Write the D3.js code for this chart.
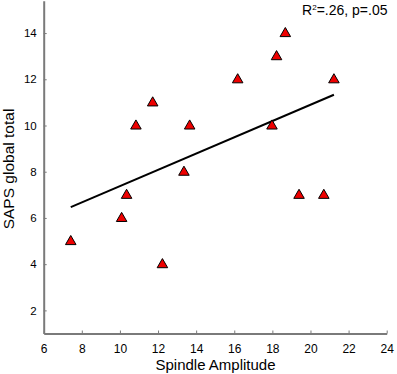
<!DOCTYPE html>
<html>
<head>
<meta charset="utf-8">
<script src="https://cdn.jsdelivr.net/npm/d3@7"></script>
<style>
html,body{margin:0;padding:0;background:#fff;}
svg{display:block;font-family:"Liberation Sans",Arial,sans-serif;}
</style>
</head>
<body>
<script>
// Data
const spindleAmplitude = [7.42, 10.09, 10.35, 10.84, 11.72, 12.23, 13.36, 13.66, 16.18, 17.98, 18.22, 18.68, 19.40, 20.70, 21.23];
const sapsGlobalTotal  = [5, 6, 7, 10, 11, 4, 8, 10, 12, 10, 13, 14, 7, 7, 12];
const xTicks = [6, 8, 10, 12, 14, 16, 18, 20, 22, 24];
const yTicks = [2, 4, 6, 8, 10, 12, 14];
const xLabel = "Spindle Amplitude";
const yLabel = "SAPS global total";
const statsMain = "R";
const statsSup = "2";
const statsRest = "=.26, p=.05";

const W = 397, H = 374;
const svg = d3.select("body").append("svg").attr("width", W).attr("height", H);

const x = d3.scaleLinear().domain([6, 24]).range([43.7, 386.7]);
const y = d3.scaleLinear().domain([1, 15.4]).range([333.5, 0.7]);

const axisColor = "#7a7a7a";

// regression line (least squares)
const pts = spindleAmplitude.map((v, i) => [v, sapsGlobalTotal[i]]);
const mx = d3.mean(spindleAmplitude), my = d3.mean(sapsGlobalTotal);
const sxy = d3.sum(pts, d => (d[0] - mx) * (d[1] - my));
const sxx = d3.sum(pts, d => (d[0] - mx) ** 2);
const slope = sxy / sxx, icpt = my - slope * mx;
const xr = d3.extent(spindleAmplitude);
svg.append("line")
  .attr("x1", x(xr[0])).attr("y1", y(icpt + slope * xr[0]))
  .attr("x2", x(xr[1])).attr("y2", y(icpt + slope * xr[1]))
  .attr("stroke", "#000").attr("stroke-width", 2);

// axes
const xAxis = d3.axisBottom(x).tickValues(xTicks).tickSizeInner(-3).tickSizeOuter(0).tickPadding(11).tickFormat(d3.format("d"));
const gx = svg.append("g").attr("transform", `translate(0,${y.range()[0]})`).call(xAxis);
gx.select(".domain").attr("stroke", axisColor).attr("stroke-width", 2);
gx.selectAll(".tick line").attr("stroke", axisColor).attr("stroke-width", 1);
gx.selectAll(".tick text").attr("font-size", 12).attr("fill", "#000").attr("font-family", "Liberation Sans, Arial, sans-serif");

const yAxis = d3.axisLeft(y).tickValues(yTicks).tickSizeInner(-3).tickSizeOuter(0).tickPadding(7).tickFormat(d3.format("d"));
const gy = svg.append("g").attr("transform", `translate(${x.range()[0]},0)`).call(yAxis);
gy.select(".domain").attr("stroke", axisColor).attr("stroke-width", 2);
gy.selectAll(".tick line").attr("stroke", axisColor).attr("stroke-width", 1);
gy.selectAll(".tick text").attr("font-size", 11.5).attr("fill", "#000").attr("font-family", "Liberation Sans, Arial, sans-serif");

// markers: upward triangles
const tri = d3.symbol().type(d3.symbolTriangle).size(48);
svg.append("g").selectAll("path").data(pts).join("path")
  .attr("d", tri)
  .attr("transform", d => `translate(${x(d[0])},${y(d[1]) + 0.5})`)
  .attr("fill", "#ee0000").attr("stroke", "#000").attr("stroke-width", 1);

// axis titles
svg.append("text").attr("x", 215.5).attr("y", 369.5)
  .attr("text-anchor", "middle").attr("font-size", 15).text(xLabel);
svg.append("text").attr("transform", "translate(14,169) rotate(-90)")
  .attr("text-anchor", "middle").attr("font-size", 15.5).text(yLabel);

// stats annotation
const st = svg.append("text").attr("x", 387.5).attr("y", 15).attr("text-anchor", "end").attr("font-size", 14);
st.append("tspan").text(statsMain);
st.append("tspan").attr("font-size", 8).attr("dy", -5).text(statsSup);
st.append("tspan").attr("dy", 5).text(statsRest);
</script>
</body>
</html>
